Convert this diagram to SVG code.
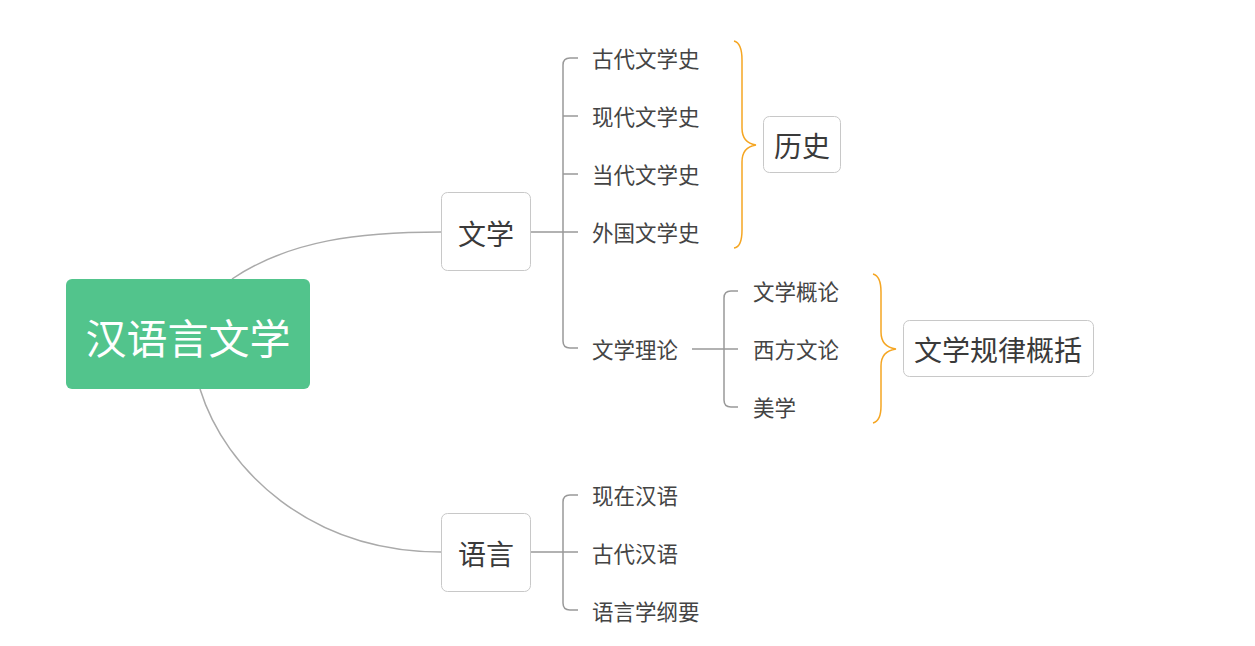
<svg xmlns="http://www.w3.org/2000/svg" width="1255" height="646" viewBox="0 0 1255 646">
<style>
text{font-family:"Noto Sans CJK SC","Noto Sans",sans-serif;fill:#3a3a3a;dominant-baseline:central}
.box{fill:#fff;stroke:#c8c8c8;stroke-width:1}
.t1{font-size:28px;text-anchor:middle}
.t2{font-size:21.5px;fill:#444}
.conn{fill:none;stroke:#999;stroke-width:1.5}
.curve{fill:none;stroke:#aaa;stroke-width:1.5}
.brace{fill:none;stroke:#f5a623;stroke-width:1.5}
</style>
<rect width="1255" height="646" fill="#fff"/>
<g id="connectors">
<path class="curve" d="M232,279 C290,240 360,232 441,232"/>
<path class="curve" d="M200,389 C225,470 310,552 441,552"/>
<path class="conn" d="M531,232 H578"/>
<path class="conn" d="M578,58 H570 Q563,58 563,65 V341 Q563,348 570,348 H578"/>
<path class="conn" d="M563,116 H578 M563,174 H578"/>
<path class="conn" d="M692,349 H738"/>
<path class="conn" d="M738,291 H731 Q724,291 724,298 V400 Q724,407 731,407 H738"/>
<path class="conn" d="M531,552 H578"/>
<path class="conn" d="M578,495 H570 Q563,495 563,502 V603 Q563,610 570,610 H578"/>
<path class="brace" d="M734,41 Q742,43 742,60 V128 Q742,143 756,145 Q742,147 742,162 V230 Q742,247 734,248"/>
<path class="brace" d="M873,274 Q881,276 881,292 V332 Q881,347 896,349 Q881,351 881,366 V406 Q881,421 873,423"/>
</g>
<g id="root">
<rect x="66" y="279" width="244" height="110" rx="6" fill="#52c48c"/>
<text x="188" y="336" style="fill:#fff;font-size:41px;text-anchor:middle">汉语言文学</text>
</g>
<g id="wenxue">
<rect class="box" x="441.5" y="192.5" width="89" height="78" rx="6"/>
<text class="t1" x="486" y="233">文学</text>
</g>
<g id="yuyan">
<rect class="box" x="441.5" y="513.5" width="89" height="78" rx="6"/>
<text class="t1" x="486" y="553">语言</text>
</g>
<g id="lishi">
<rect class="box" x="763.5" y="116.5" width="77" height="56" rx="6"/>
<text class="t1" x="802" y="145">历史</text>
</g>
<g id="guilv">
<rect class="box" x="903.5" y="320.5" width="190" height="56" rx="6"/>
<text class="t1" x="998" y="349">文学规律概括</text>
</g>
<g id="n1"><text class="t2" x="592" y="57">古代文学史</text></g>
<g id="n2"><text class="t2" x="592" y="115">现代文学史</text></g>
<g id="n3"><text class="t2" x="592" y="173">当代文学史</text></g>
<g id="n4"><text class="t2" x="592" y="231">外国文学史</text></g>
<g id="n5"><text class="t2" x="592" y="348">文学理论</text></g>
<g id="n6"><text class="t2" x="753" y="290">文学概论</text></g>
<g id="n7"><text class="t2" x="753" y="348">西方文论</text></g>
<g id="n8"><text class="t2" x="753" y="406">美学</text></g>
<g id="n9"><text class="t2" x="592" y="494">现在汉语</text></g>
<g id="n10"><text class="t2" x="592" y="552">古代汉语</text></g>
<g id="n11"><text class="t2" x="592" y="610">语言学纲要</text></g>
</svg>
